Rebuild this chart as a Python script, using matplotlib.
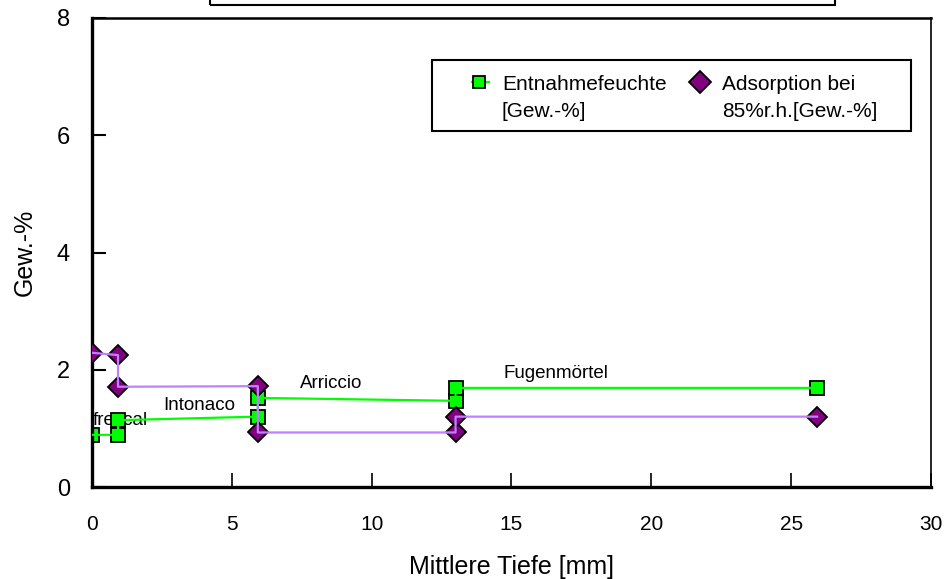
import matplotlib
matplotlib.use("Agg")
import matplotlib.pyplot as plt
from matplotlib.patches import Rectangle
from matplotlib.lines import Line2D

plt.rcParams['font.family'] = ['Liberation Sans', 'DejaVu Sans']

# ---- data ----
depth_entnahme = [0.0, 0.93, 0.93, 5.93, 5.93, 13.0, 13.0, 25.93]
entnahme = [0.89, 0.89, 1.14, 1.20, 1.52, 1.47, 1.69, 1.69]
depth_ads = [0.0, 0.93, 0.93, 5.93, 5.93, 13.0, 13.0, 25.93]
adsorption = [2.29, 2.25, 1.71, 1.72, 0.93, 0.93, 1.20, 1.20]

layer_names = ["frescal", "Intonaco", "Arriccio", "Fugenmörtel"]
layer_x = [0.04, 3.82, 8.54, 16.6]
layer_y = [1.13, 1.39, 1.76, 1.93]

x_ticks = [0, 5, 10, 15, 20, 25, 30]
y_ticks = [0, 2, 4, 6, 8]

series_labels = ["Entnahmefeuchte\n[Gew.-%]", "Adsorption bei\n85%r.h.[Gew.-%]"]

W, H = 953, 579
fig = plt.figure(figsize=(W / 100, H / 100), dpi=100)

def fx(px):
    return px / W

def fy(py):
    return 1 - py / H

ax = fig.add_axes([fx(92), fy(487), fx(931) - fx(92), fy(18) - fy(487)])

green = '#00FF00'
lav = '#BF80FF'
purple = '#800080'

# markers
ax.plot(depth_entnahme, entnahme, ls='none', marker='s', ms=10.5,
        mfc=green, mec='black', mew=1.3, zorder=2)
ax.plot(depth_ads, adsorption, ls='none', marker='D', ms=10.5,
        mfc=purple, mec='black', mew=1.3, zorder=3)
# lines on top
ax.plot(depth_entnahme, entnahme, color=green, lw=1.6, zorder=4)
ax.plot(depth_ads, adsorption, color=lav, lw=1.6, zorder=5)

for name, xx, yy in zip(layer_names, layer_x, layer_y):
    ha = 'left' if xx < 1 else 'center'
    ax.text(xx, yy, name, fontsize=13.5, ha=ha, va='center', zorder=1)

ax.set_xlim(0, 30)
ax.set_ylim(0, 8)
ax.set_xticks(x_ticks)
ax.set_yticks(y_ticks)
ax.tick_params(axis='x', direction='in', length=10, width=1.2, pad=20,
               labelsize=15, top=False)
ax.tick_params(axis='y', direction='in', length=10, width=1.5, pad=16,
               labelsize=17, right=False)

ax.spines['left'].set_linewidth(2.4)
ax.spines['bottom'].set_linewidth(2.4)
ax.spines['top'].set_linewidth(1.8)
ax.spines['right'].set_linewidth(1.2)

ax.set_xlabel("Mittlere Tiefe [mm]", fontsize=18, labelpad=15)
ax.set_ylabel("Gew.-%", fontsize=18)
ax.yaxis.set_label_coords(-(92 - 37) / (931 - 92), 0.5)

# title box (cut off at top)
fig.add_artist(Rectangle((fx(210), fy(5)), fx(835) - fx(210), 0.2,
                         transform=fig.transFigure, fill=False,
                         edgecolor='black', lw=1.5))

# legend box
fig.add_artist(Rectangle((fx(432), fy(131)), fx(911) - fx(432), fy(60) - fy(131),
                         transform=fig.transFigure, facecolor='white',
                         edgecolor='black', lw=1.5, zorder=10))
fig.add_artist(Line2D([fx(472), fx(489)], [fy(82), fy(82)], transform=fig.transFigure,
                      color=green, lw=1.6, zorder=11))
fig.add_artist(Line2D([fx(479)], [fy(82)], transform=fig.transFigure, ls='none',
                      marker='s', ms=9, mfc=green, mec='black', mew=1.3, zorder=12))
fig.add_artist(Line2D([fx(700)], [fy(82)], transform=fig.transFigure, ls='none',
                      marker='D', ms=11, mfc=purple, mec='black', mew=1.3, zorder=12))
fig.text(fx(502), fy(98), series_labels[0], fontsize=15, ha='left', va='center',
         linespacing=1.5, zorder=13)
fig.text(fx(722), fy(98), series_labels[1], fontsize=15, ha='left', va='center',
         linespacing=1.5, zorder=13)

fig.savefig("out.png", dpi=100)
